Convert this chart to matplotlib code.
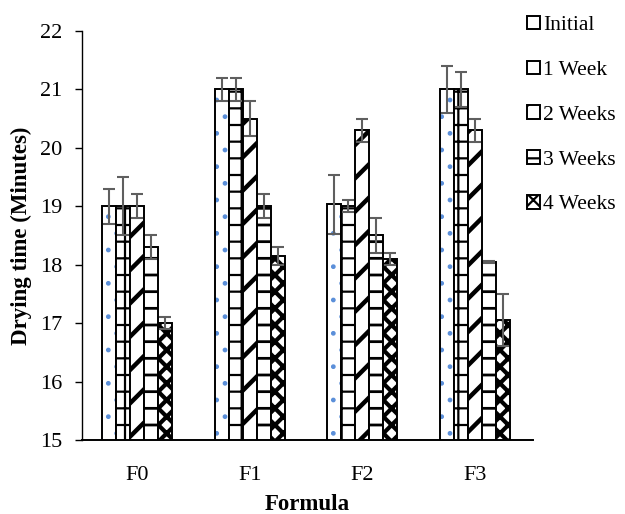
import numpy as np
import matplotlib.pyplot as plt
from matplotlib.colors import to_rgba

plt.rcParams['font.family'] = ['Liberation Serif', 'DejaVu Serif']
plt.rcParams['hatch.linewidth'] = 1.6

formulas = ['F0', 'F1', 'F2', 'F3']
series = ['Initial', '1 Week', '2 Weeks', '3 Weeks', '4 Weeks']

# drying time (minutes), one list per storage time
initial = [19.0, 21.0, 19.03, 21.0]
week1 = [19.0, 21.0, 19.0, 21.0]
week2 = [19.0, 20.5, 20.3, 20.3]
week3 = [18.3, 19.0, 18.5, 18.05]
week4 = [17.0, 18.15, 18.1, 17.05]

err_initial = [0.3, 0.2, 0.5, 0.4]
err_week1 = [0.5, 0.2, 0.1, 0.3]
err_week2 = [0.2, 0.3, 0.2, 0.2]
err_week3 = [0.2, 0.2, 0.3, 0.02]
err_week4 = [0.1, 0.15, 0.1, 0.45]

values = [initial, week1, week2, week3, week4]
errors = [err_initial, err_week1, err_week2, err_week3, err_week4]
hatches = ['.', '+', '/', '-', 'XX']
hatch_colors = ['#5b8fd9', 'black', 'black', 'black', 'black']
hatch_widths = [1.0, 1.6, 3.2, 2.0, 3.0]

fig = plt.figure(figsize=(6.25, 5.14), dpi=100)
ax = fig.add_axes([0.131, 0.144, 0.722, 0.796])

x = np.arange(len(formulas))
width = 0.124
for i, (name, vals, errs) in enumerate(zip(series, values, errors)):
    pos = x + (i - 2) * width
    bars = ax.bar(pos, vals, width, color='white', edgecolor='black',
                  linewidth=1.4, label=name, zorder=2)
    for b in bars:
        b.set_hatch(hatches[i])
        b._hatch_color = to_rgba(hatch_colors[i])
        try:
            b.set_hatch_linewidth(hatch_widths[i])
        except AttributeError:
            pass
    ax.errorbar(pos, vals, yerr=errs, fmt='none', ecolor='#5f5f5f',
                elinewidth=1.5, capsize=4.5, capthick=1.5, zorder=3)

ax.set_ylim(15, 22)
ax.set_xlim(-0.487, 3.513)
ax.set_yticks(range(15, 23))
ax.set_xticks(x)
ax.set_xticklabels(formulas)
ax.tick_params(axis='both', labelsize=16, length=5, width=1)
ax.tick_params(axis='y', pad=9)
ax.tick_params(axis='x', length=0, pad=18.5)
for s in ['top', 'right']:
    ax.spines[s].set_visible(False)
ax.spines['left'].set_linewidth(1)
ax.spines['bottom'].set_linewidth(1.4)

ax.set_ylabel('Drying time (Minutes)', fontsize=16.5, fontweight='bold', labelpad=6)
ax.set_xlabel('Formula', fontsize=16.5, fontweight='bold', labelpad=7)

ax.legend(loc='upper left', bbox_to_anchor=(0.987, 1.037), frameon=False,
          fontsize=15.5, handlelength=0.6, handleheight=0.6,
          handletextpad=0.15, labelspacing=1.18, borderpad=0,
          borderaxespad=0)

fig.savefig('out.png', dpi=100)
